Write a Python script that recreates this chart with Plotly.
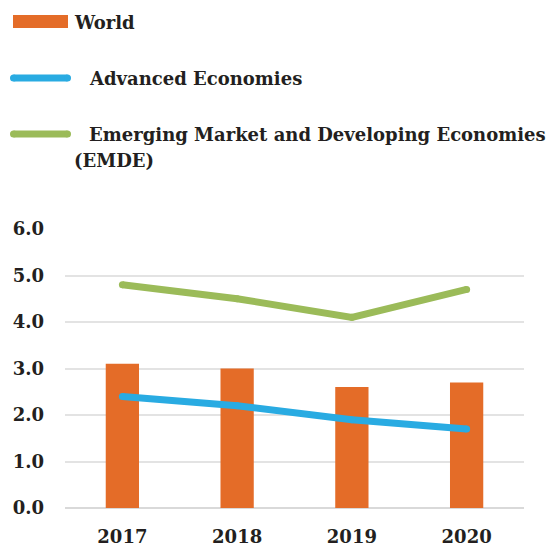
import plotly.graph_objects as go

years = ["2017", "2018", "2019", "2020"]
world = [3.1, 3.0, 2.6, 2.7]
advanced = [2.4, 2.2, 1.9, 1.7]
emde = [4.8, 4.5, 4.1, 4.7]
y_ticks = [0, 1, 2, 3, 4, 5, 6]
y_tick_labels = ["0.0", "1.0", "2.0", "3.0", "4.0", "5.0", "6.0"]

ORANGE = "#E46C28"
BLUE = "#29ABE2"
GREEN = "#9BBB59"
FONT = "DejaVu Serif"
TXT = "#231F20"

W, H = 549, 546
L, R, T, B = 65, 25, 229, 38
PW, PH = W - L - R, H - T - B


def px(x):
    return (x - L) / PW


def py(y):
    return (H - B - y) / PH


fig = go.Figure()
fig.add_trace(go.Bar(x=years, y=world, name="World", marker=dict(color=ORANGE, line=dict(width=0)), width=0.29))
fig.add_trace(go.Scatter(x=years, y=advanced, name="Advanced Economies", mode="lines+markers",
                         line=dict(color=BLUE, width=7), marker=dict(color=BLUE, size=7)))
fig.add_trace(go.Scatter(x=years, y=emde, name="Emerging Market and Developing Economies (EMDE)",
                         mode="lines+markers", line=dict(color=GREEN, width=7), marker=dict(color=GREEN, size=7)))

shapes = []
shapes.append(dict(type="rect", xref="paper", yref="paper", x0=px(13), x1=px(68), y0=py(28), y1=py(15),
                   fillcolor=ORANGE, line=dict(width=0)))
for yy, col in [(78, BLUE), (134, GREEN)]:
    shapes.append(dict(type="line", xref="paper", yref="paper", x0=px(13.5), x1=px(67.5), y0=py(yy), y1=py(yy),
                       line=dict(color=col, width=7)))
    for cx in (13.5, 67.5):
        shapes.append(dict(type="circle", xref="paper", yref="paper", x0=px(cx - 3.5), x1=px(cx + 3.5),
                           y0=py(yy + 3.5), y1=py(yy - 3.5), fillcolor=col, line=dict(width=0)))

annotations = [
    dict(text="<b>World</b>", x=px(72), y=py(22)),
    dict(text="<b>Advanced Economies</b>", x=px(87), y=py(78)),
    dict(text="<b>Emerging Market and Developing Economies</b>", x=px(87), y=py(134)),
    dict(text="<b>(EMDE)</b>", x=px(72), y=py(161)),
]
for a in annotations:
    a.update(xref="paper", yref="paper", xanchor="left", yanchor="middle", showarrow=False,
             font=dict(family=FONT, size=18, color=TXT))

fig.update_layout(
    width=W, height=H,
    margin=dict(l=L, r=R, t=T, b=B, pad=0),
    paper_bgcolor="white", plot_bgcolor="white",
    showlegend=False,
    shapes=shapes, annotations=annotations,
    font=dict(family=FONT, size=18, color=TXT),
)
fig.update_yaxes(range=[0, 6], tickvals=y_ticks, ticktext=[f"<b>{t}</b>" for t in y_tick_labels],
                 showgrid=True, gridcolor="#E3E3E3", gridwidth=2, zeroline=True, zerolinecolor="#D9D9D9",
                 zerolinewidth=2, showline=False, ticks="", ticklabelstandoff=20, automargin=False,
                 tickfont=dict(family=FONT, size=18, color=TXT))
fig.update_xaxes(tickvals=years, ticktext=[f"<b>{y}</b>" for y in years], showgrid=False, showline=False,
                 ticks="", ticklabelstandoff=16, automargin=False,
                 tickfont=dict(family=FONT, size=18, color=TXT))

fig.write_html("out.html", config={"displayModeBar": False},
               post_script="document.body.style.margin='0';")
